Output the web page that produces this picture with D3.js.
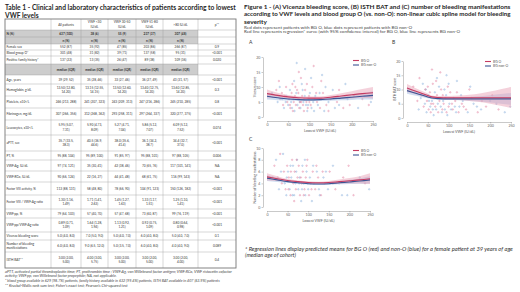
<!DOCTYPE html>
<html>
<head>
<meta charset="utf-8">
<script src="https://cdn.jsdelivr.net/npm/d3@7"></script>
<style>
  body { margin: 0; background: #fff; }
  svg { display: block; font-family: Lato, 'Open Sans', sans-serif; }
</style>
</head>
<body>
<svg width="520" height="292"></svg>
<script>
// ---- table 1 ----
const colHeaders = ['All patients', 'VWF <30 IU/dL', 'VWF 30-50 IU/dL', 'VWF 51-80 IU/dL', '>80 IU/dL', 'p**'];
const rowLabels = ['N (%)', '', 'Female sex', 'Blood group O*', 'Positive family history*', '', 'Age, years',
  'Hemoglobin, g/dL', 'Platelets, x10⁹/L', 'Fibrinogen, mg/dL', 'Leucocytes, x10⁹/L', 'aPTT, sec', 'PT, %',
  'VWF:Ag, IU/dL', 'VWF:RCo, IU/dL', 'Factor VIII activity, %', 'Factor VIII / VWF:Ag ratio', 'VWF:pp, %',
  'VWF:pp/VWF:Ag ratio', 'Vicenza bleeding score', 'Number of bleeding manifestations', 'ISTH BAT**'];
const allPatients = ['637 (100)', 'n (%)', '552 (87)', '301 (48)', '137 (22)', 'median (IQR)', '39 (29, 52)',
  '13.50 (12.80, 14.20)', '246 (213, 288)', '307 (266, 356)', '5.95 (5.07, 7.31)', '35.7 (33.5, 38.3)',
  '95 (88, 104)', '97 (74, 121)', '90 (66, 124)', '113 (88, 131)', '1.30 (1.16, 1.49)', '79 (64, 103)',
  '0.89 (0.71, 1.09)', '5.0 (4.0, 8.0)', '6.0 (4.0, 8.0)', '3.00 (2.00, 5.00)'];
const vwfBelow30 = ['38 (6)', 'n (%)', '35 (92)', '31 (82)', '13 (35)', 'median (IQR)', '35 (28, 46)',
  '13.15 (12.55, 14.15)', '241 (207, 323)', '312 (268, 362)', '5.90 (4.73, 8.09)', '40.5 (36.9, 44.6)',
  '95 (89, 100)', '35 (30, 41)', '22 (16, 27)', '58 (48, 80)', '1.71 (1.41, 2.63)', '57 (40, 70)',
  '1.64 (1.28, 1.94)', '7.0 (5.0, 9.0)', '9.0 (6.5, 12.0)', '4.00 (3.00, 5.75)'];
const vwf30to50 = ['55 (9)', 'n (%)', '47 (85)', '39 (71)', '26 (47)', 'median (IQR)', '33 (27, 46)',
  '13.50 (12.60, 14.20)', '243 (209, 313)', '293 (258, 311)', '5.27 (4.71, 7.04)', '38.0 (35.6, 41.4)',
  '91 (85, 97)', '42 (38, 46)', '44 (41, 48)', '78 (66, 90)', '1.45 (1.27, 1.63)', '57 (47, 68)',
  '1.13 (0.92, 1.21)', '5.0 (4.0, 7.0)', '5.0 (3.5, 7.0)', '3.00 (2.00, 5.00)'];
const vwf51to80 = ['237 (37)', 'n (%)', '203 (86)', '137 (58)', '89 (38)', 'median (IQR)', '36 (27, 49)',
  '13.40 (12.75, 14.20)', '247 (216, 286)', '297 (264, 337)', '5.86 (5.12, 7.07)', '36.1 (34.2, 38.7)',
  '95 (88, 101)', '70 (65, 76)', '68 (61, 75)', '104 (91, 123)', '1.33 (1.17, 1.51)', '73 (60, 87)',
  '0.92 (0.75, 1.09)', '6.0 (4.0, 8.0)', '6.0 (4.0, 8.0)', '3.00 (2.00, 5.00)'];
const vwfAbove80 = ['307 (48)', 'n (%)', '266 (87)', '95 (31)', '109 (36)', 'median (IQR)', '43 (31, 57)',
  '13.60 (12.85, 14.20)', '245 (210, 285)', '320 (277, 375)', '6.09 (5.12, 7.52)', '34.4 (32.7, 37.0)',
  '97 (88, 105)', '117 (101, 141)', '116 (99, 143)', '150 (126, 182)', '1.25 (1.10, 1.41)', '99 (76, 119)',
  '0.80 (0.64, 0.98)', '5.0 (4.0, 7.0)', '4.0 (4.0, 9.0)', '3.00 (2.00, 4.00)'];
const pValues = ['', '', '0.9', '<0.001', '0.020', '', '<0.001', '0.3', '0.8', '<0.001', '0.074', '<0.001',
  '0.006', 'NA', 'NA', '<0.001', '<0.001', '<0.001', '<0.001', '0.1', '0.089', '0.4'];
const shadedRows = [0, 1, 5];

// ---- figure 1: x = lowest VWF (IU/dL) ----
const vwfGrid = [0, 25, 50, 75, 100, 125, 150, 175, 200, 225, 250];
const batGrid = [0, 25, 50, 60, 75, 100, 125, 150, 175, 200, 225, 250];

// (A) Vicenza score
const vicOMean = [7.8, 7.2, 6.7, 6.4, 6.3, 6.3, 6.6, 7.0, 7.4, 7.8, 8.1];
const vicOLow  = [6.4, 6.3, 6.1, 5.9, 5.8, 5.8, 5.9, 6.1, 6.2, 6.3, 6.2];
const vicOHigh = [9.2, 8.1, 7.3, 6.9, 6.8, 6.8, 7.3, 7.9, 8.6, 9.3, 10.0];
const vicNMean = [6.9, 6.4, 6.0, 5.8, 5.7, 5.8, 6.0, 6.3, 6.6, 6.9, 7.2];
const vicNLow  = [5.8, 5.6, 5.5, 5.4, 5.3, 5.3, 5.4, 5.6, 5.7, 5.8, 5.8];
const vicNHigh = [8.0, 7.2, 6.5, 6.2, 6.1, 6.3, 6.6, 7.0, 7.5, 8.0, 8.6];
const vicODots = [[22,9],[28,12],[31,6],[35,8],[38,4],[42,7],[45,10],[48,5],[52,6],[55,3],[58,8],[60,11],[63,5],
  [66,7],[68,4],[71,9],[73,6],[76,3],[78,5],[80,13],[83,7],[85,4],[88,6],[90,9],[93,5],[96,3],[99,7],[103,4],
  [107,10],[112,6],[118,5],[125,3],[132,8],[140,4],[150,6],[165,5],[180,3],[205,7],[240,4],[75,15],[110,17],
  [54,4],[61,2],[67,10],[74,8],[81,5],[87,2],[94,11],[100,5],[116,8],[128,12],[145,2],[170,9],[195,4],[225,6]];
const vicNDots = [[12,8],[25,5],[30,10],[36,6],[40,3],[46,7],[50,4],[54,9],[57,5],[62,6],[65,2],[69,8],[72,4],
  [75,6],[79,3],[82,11],[86,5],[89,7],[92,4],[95,2],[98,6],[101,8],[105,3],[109,5],[114,7],[120,4],[128,6],
  [135,2],[145,5],[155,9],[170,4],[190,6],[215,3],[245,5],[130,14],[90,16],[70,18],
  [44,5],[59,3],[64,12],[77,5],[84,9],[97,4],[104,13],[111,2],[124,8],[138,10],[160,3],[185,11],[230,7]];

// (B) ISTH BAT score
const batOMean = [10.5, 9.2, 7.9, 7.4, 7.2, 7.1, 7.1, 7.1, 7.1, 7.1, 7.1, 7.1];
const batOLow  = [9.1, 8.2, 7.2, 6.9, 6.7, 6.5, 6.3, 6.0, 5.6, 5.0, 4.3, 3.5];
const batOHigh = [11.9, 10.2, 8.6, 7.9, 7.7, 7.7, 7.9, 8.2, 8.6, 9.3, 10.1, 10.9];
const batNMean = [9.6, 8.5, 7.4, 7.0, 6.8, 6.7, 6.7, 6.7, 6.7, 6.7, 6.7, 6.7];
const batNLow  = [8.5, 7.7, 6.9, 6.6, 6.4, 6.3, 6.2, 6.0, 5.8, 5.4, 5.0, 4.6];
const batNHigh = [10.7, 9.3, 7.9, 7.4, 7.2, 7.1, 7.2, 7.4, 7.6, 8.0, 8.4, 8.8];
const batODots = [[15,11],[25,6],[30,14],[35,8],[40,4],[44,10],[48,6],[52,3],[55,9],[58,5],[62,12],[65,7],
  [68,4],[72,8],[75,2],[78,6],[82,10],[85,3],[88,5],[92,7],[95,2],[100,4],[104,9],[110,3],[116,6],[124,2],
  [132,5],[142,3],[155,7],[170,2],[190,4],[220,3],[80,16],[60,17],
  [50,11],[57,2],[63,5],[70,13],[86,8],[98,11],[108,5],[120,9],[136,4],[150,10],[180,6],[205,8]];
const batNDots = [[20,9],[28,3],[33,7],[38,12],[43,5],[47,2],[51,8],[56,4],[60,6],[64,1],[67,9],[70,3],
  [74,5],[77,11],[81,4],[84,2],[87,6],[91,3],[94,8],[97,1],[102,5],[106,3],[112,7],[118,2],[126,4],[134,6],
  [146,2],[160,5],[178,3],[200,6],[235,2],[248,4],[95,15],[120,13],
  [45,10],[53,6],[62,3],[72,14],[79,7],[90,10],[100,12],[115,4],[130,8],[152,11],[168,4],[215,5]];

// (C) number of bleeding manifestations
const numOMean = [5.1, 4.8, 4.5, 4.3, 4.15, 4.1, 4.15, 4.3, 4.45, 4.6, 4.8];
const numOLow  = [4.5, 4.4, 4.25, 4.1, 3.95, 3.9, 3.9, 3.95, 4.0, 4.0, 3.9];
const numOHigh = [5.7, 5.2, 4.75, 4.5, 4.35, 4.3, 4.4, 4.65, 4.9, 5.2, 5.7];
const numNMean = [4.9, 4.6, 4.3, 4.1, 3.95, 3.9, 3.95, 4.1, 4.25, 4.4, 4.6];
const numNLow  = [4.4, 4.25, 4.1, 3.95, 3.8, 3.75, 3.75, 3.85, 3.9, 3.95, 4.0];
const numNHigh = [5.4, 4.95, 4.5, 4.25, 4.1, 4.05, 4.15, 4.35, 4.6, 4.85, 5.2];
const numODots = [[18,7],[26,5],[32,9],[36,4],[41,6],[45,3],[49,7],[53,5],[57,2],[61,8],[64,4],[67,6],[70,3],
  [74,5],[77,7],[80,2],[84,4],[87,6],[91,3],[94,5],[98,8],[102,2],[106,4],[111,6],[117,3],[124,5],[131,2],
  [140,4],[152,6],[166,3],[185,5],[210,2],[238,4],
  [52,3],[58,6],[66,1],[72,8],[82,5],[89,2],[96,7],[108,3],[120,7],[135,6],[160,4],[198,7]];
const numNDots = [[14,5],[22,8],[29,3],[34,6],[39,9],[43,4],[47,2],[51,6],[55,3],[59,5],[63,7],[66,2],[69,4],
  [73,8],[76,3],[79,5],[83,1],[86,7],[89,4],[93,2],[96,6],[100,3],[104,5],[109,1],[114,4],[121,6],[128,2],
  [137,5],[148,3],[160,7],[175,4],[195,2],[225,5],[248,3],
  [48,5],[57,7],[62,2],[71,6],[78,4],[85,3],[92,8],[99,4],[112,7],[126,3],[143,6],[182,2]];

const groups = ['BG O', 'BG non-O'];

// ---------------------------------------------------------------
const svg = d3.select('svg');
svg.append('rect').attr('width', 520).attr('height', 292).attr('fill', '#fff');

const FONT = "Lato, 'Open Sans', sans-serif";
const RED = '#c43b62', BLUE = '#3b5594';

// shrink or grow a text node to a given width
function fitWidth(t, w) {
  const fs = +t.attr('font-size');
  const len = t.node().getComputedTextLength();
  t.attr('font-size', fs * w / len);
}

function addLine(x, y, str, size, opts = {}) {
  const t = svg.append('text')
    .attr('x', x).attr('y', y)
    .attr('font-size', size)
    .attr('font-family', FONT)
    .attr('fill', opts.fill || '#262626')
    .attr('font-weight', opts.bold ? 'bold' : null)
    .attr('font-style', opts.italic ? 'italic' : null)
    .text(str);
  if (opts.width) fitWidth(t, opts.width);
  return t;
}

// ---- table title ----
const tt1 = addLine(5, 9.5, 'Table 1 - Clinical and laboratory characteristics of patients according to lowest', 7, { bold: true, width: 231 });
addLine(5, 17.5, 'VWF levels', +tt1.attr('font-size'), { bold: true });

// ---- table grid ----
const colEdges = [5, 51, 81, 108, 136, 163, 198, 236];
const rowEdges = [19, 30, 37, 44, 50, 56, 64, 75, 84, 96, 108, 120, 135, 151, 160, 171, 182, 195, 209, 218, 232, 240, 252, 268];
const columns = [allPatients, vwfBelow30, vwf30to50, vwf51to80, vwfAbove80, pValues];
const tbl = svg.append('g');
const cellFs = 3.2, lineH = 4.6;

shadedRows.forEach(r => {
  tbl.append('rect')
    .attr('x', colEdges[0]).attr('y', rowEdges[r + 1])
    .attr('width', colEdges[6] - colEdges[0])
    .attr('height', rowEdges[r + 2] - rowEdges[r + 1])
    .attr('fill', '#cdcdcd');
});

function cellText(str, x0, x1, y0, y1, align, bold) {
  if (!str) return;
  const maxW = align === 'start' ? (x1 - x0 - 3) : Math.min(21, x1 - x0 - 4);
  const t = tbl.append('text')
    .attr('font-size', cellFs).attr('font-family', FONT)
    .attr('fill', '#333')
    .attr('font-weight', bold ? 'bold' : null)
    .attr('text-anchor', align === 'start' ? 'start' : 'middle');
  const words = str.split(' ');
  const lines = [];
  let cur = [];
  words.forEach(w => {
    cur.push(w);
    t.text(cur.join(' '));
    if (t.node().getComputedTextLength() > maxW && cur.length > 1) {
      cur.pop();
      lines.push(cur.join(' '));
      cur = [w];
    }
  });
  lines.push(cur.join(' '));
  t.text(null);
  const x = align === 'start' ? x0 + 1.5 : (x0 + x1) / 2;
  const yTop = (y0 + y1) / 2 - (lines.length - 1) * lineH / 2 + cellFs * 0.35;
  lines.forEach((l, i) => {
    t.append('tspan').attr('x', x).attr('y', yTop + i * lineH).text(l);
  });
}

// header row
colHeaders.forEach((h, i) => cellText(h, colEdges[i + 1], colEdges[i + 2], rowEdges[0], rowEdges[1], 'middle', false));

rowLabels.forEach((lab, r) => {
  const y0 = rowEdges[r + 1], y1 = rowEdges[r + 2];
  const bold = shadedRows.includes(r);
  cellText(lab, colEdges[0], colEdges[1], y0, y1, 'start', bold);
  columns.forEach((col, c) => cellText(col[r], colEdges[c + 1], colEdges[c + 2], y0, y1, 'middle', bold));
});

// inner lines
rowEdges.slice(1, -1).forEach(y => {
  tbl.append('line').attr('x1', colEdges[0]).attr('x2', colEdges[7]).attr('y1', y).attr('y2', y)
    .attr('stroke', '#9a9a9a').attr('stroke-width', 0.4);
});
colEdges.slice(1, -1).forEach(x => {
  tbl.append('line').attr('x1', x).attr('x2', x).attr('y1', rowEdges[0]).attr('y2', rowEdges[rowEdges.length - 1])
    .attr('stroke', '#9a9a9a').attr('stroke-width', 0.4);
});
tbl.append('rect')
  .attr('x', colEdges[0]).attr('y', rowEdges[0])
  .attr('width', colEdges[7] - colEdges[0]).attr('height', rowEdges[rowEdges.length - 1] - rowEdges[0])
  .attr('fill', 'none').attr('stroke', '#777').attr('stroke-width', 0.9);

// table footnotes
addLine(5, 273, 'aPTT, activated partial thromboplastin time; PT, prothrombin time ; VWF:Ag, von Willebrand factor antigen; VWF:RCo, VWF ristocetin cofactor', 3, { italic: true, fill: '#444', width: 228 });
addLine(5, 277.2, 'activity; VWF:pp, von Willebrand factor propeptide; NA, not applicable.', 3, { italic: true, fill: '#444', width: 112 });
addLine(5, 281.6, '* blood group available in 629 (98.7%) patients, family history available in 632 (99.4%) patients, ISTH BAT available in 407 (63.9%) patients', 3, { italic: true, fill: '#444', width: 215 });
addLine(5, 286.5, "** Kruskal-Wallis rank sum test; Fisher's exact test; Pearson's Chi-squared test", 3, { italic: true, fill: '#444', width: 123 });

// ---- figure title ----
const ft1 = addLine(244, 8.5, 'Figure 1 - (A) Vicenza bleeding score, (B) ISTH BAT and (C) number of bleeding manifestations', 7, { bold: true, width: 267 });
addLine(244, 16, 'according to VWF levels and blood group O (vs. non-O): non-linear cubic spline model for bleeding', 7, { bold: true, width: 267 });
addLine(244, 23.5, 'severity', +ft1.attr('font-size'), { bold: true });
addLine(244, 28.5, 'Red dots represent patients with BG O, blue dots represent patients with BG non-O', 3.2, { fill: '#444', width: 168 });
addLine(244, 33, 'Red line represents regression* curve (with 95% confidence interval) for BG O, blue line represents BG non-O', 3.2, { fill: '#444', width: 216 });

addLine(245, 251, '* Regression lines display predicted means for BG O (red) and non-O (blue) for a female patient at 39 years of age', 4.3, { italic: true, fill: '#333', width: 268 });
addLine(245, 257, '(median age of cohort)', 4.3, { italic: true, fill: '#333', width: 51 });

// ---- spline panels ----
function styleAxis(g) {
  g.selectAll('path.domain').attr('stroke', '#777').attr('stroke-width', 0.4);
  g.selectAll('.tick line').attr('stroke', '#777').attr('stroke-width', 0.4);
  g.selectAll('.tick text').attr('fill', '#666').attr('font-size', 3.6).attr('font-family', FONT);
}

function panel(p) {
  const x = d3.scaleLinear().domain([0, 250]).range([p.x0, p.x1]);
  const y = d3.scaleLinear().domain(p.yDomain).range([p.yBottom, p.yTop]);
  const g = svg.append('g');

  g.append('text').attr('x', p.letterX).attr('y', p.letterY)
    .attr('font-size', 5).attr('font-family', FONT).attr('fill', '#333').text(p.letter);

  g.append('g').attr('transform', `translate(0,${p.yBottom + 4})`)
    .call(d3.axisBottom(x).tickValues([0, 50, 100, 150, 200, 250]).tickSize(1.5).tickPadding(1.2).tickSizeOuter(0))
    .call(styleAxis);
  g.append('g').attr('transform', `translate(${p.x0 - 4},0)`)
    .call(d3.axisLeft(y).tickValues(p.yTicks).tickSize(1.5).tickPadding(1.2).tickSizeOuter(0))
    .call(styleAxis);

  g.append('text')
    .attr('x', (p.x0 + p.x1) / 2).attr('y', p.yBottom + 15)
    .attr('text-anchor', 'middle').attr('font-size', 3.6).attr('font-family', FONT).attr('fill', '#555')
    .text('Lowest VWF (IU/dL)');
  g.append('text')
    .attr('transform', `translate(${p.x0 - 11},${(p.yTop + p.yBottom) / 2}) rotate(-90)`)
    .attr('text-anchor', 'middle').attr('font-size', 3.4).attr('font-family', FONT).attr('fill', '#555')
    .text(p.yTitle);

  // dots
  g.selectAll('.dotN').data(p.nDots).enter().append('circle')
    .attr('cx', d => x(d[0])).attr('cy', d => y(d[1])).attr('r', 0.8)
    .attr('fill', '#8fb4e0').attr('fill-opacity', 0.35)
    .attr('stroke', '#6f9bd3').attr('stroke-width', 0.35).attr('stroke-opacity', 0.8);
  g.selectAll('.dotO').data(p.oDots).enter().append('circle')
    .attr('cx', d => x(d[0])).attr('cy', d => y(d[1])).attr('r', 0.8)
    .attr('fill', '#e88aa5').attr('fill-opacity', 0.35)
    .attr('stroke', '#d9668a').attr('stroke-width', 0.35).attr('stroke-opacity', 0.8);

  // bands and curves
  const series = [
    { low: p.nLow, high: p.nHigh, mean: p.nMean, band: '#9fbbe3', line: BLUE },
    { low: p.oLow, high: p.oHigh, mean: p.oMean, band: '#eaa3b8', line: RED }
  ];
  const area = d3.area().curve(d3.curveMonotoneX)
    .x(d => x(d.v)).y0(d => y(d.lo)).y1(d => y(d.hi));
  const line = d3.line().curve(d3.curveMonotoneX).x(d => x(d.v)).y(d => y(d.m));
  series.forEach(s => {
    const rows = p.grid.map((v, i) => ({ v, lo: s.low[i], hi: s.high[i], m: s.mean[i] }));
    g.append('path').datum(rows).attr('d', area).attr('fill', s.band).attr('opacity', 0.5);
  });
  series.forEach(s => {
    const rows = p.grid.map((v, i) => ({ v, m: s.mean[i] }));
    g.append('path').datum(rows).attr('d', line).attr('fill', 'none')
      .attr('stroke', s.line).attr('stroke-width', 1.1);
  });

  // legend
  groups.forEach((name, i) => {
    const ly = p.legY + i * 4.5;
    g.append('line').attr('x1', p.legX).attr('x2', p.legX + 6).attr('y1', ly).attr('y2', ly)
      .attr('stroke', i === 0 ? RED : BLUE).attr('stroke-width', 1.1);
    g.append('text').attr('x', p.legX + 8).attr('y', ly + 1.2)
      .attr('font-size', 3.4).attr('font-family', FONT).attr('fill', '#555').text(name);
  });
}

panel({
  letter: 'A', letterX: 249, letterY: 44,
  x0: 267, x1: 373, yTop: 57, yBottom: 117, yDomain: [0, 20], yTicks: [0, 5, 10, 15, 20],
  yTitle: 'Vicenza score', grid: vwfGrid,
  oMean: vicOMean, oLow: vicOLow, oHigh: vicOHigh, nMean: vicNMean, nLow: vicNLow, nHigh: vicNHigh,
  oDots: vicODots, nDots: vicNDots, legX: 353, legY: 60.5
});
panel({
  letter: 'B', letterX: 392, letterY: 44,
  x0: 407, x1: 511, yTop: 61, yBottom: 118, yDomain: [0, 20], yTicks: [0, 5, 10, 15, 20],
  yTitle: 'ISTH BAT score', grid: batGrid,
  oMean: batOMean, oLow: batOLow, oHigh: batOHigh, nMean: batNMean, nLow: batNLow, nHigh: batNHigh,
  oDots: batODots, nDots: batNDots, legX: 485, legY: 61.5
});
panel({
  letter: 'C', letterX: 249, letterY: 141,
  x0: 267, x1: 370, yTop: 148, yBottom: 207, yDomain: [0, 10], yTicks: [0, 2, 4, 6, 8, 10],
  yTitle: 'Number of bleeding manifestations', grid: vwfGrid,
  oMean: numOMean, oLow: numOLow, oHigh: numOHigh, nMean: numNMean, nLow: numNLow, nHigh: numNHigh,
  oDots: numODots, nDots: numNDots, legX: 353, legY: 150.5
});
</script>
</body>
</html>
